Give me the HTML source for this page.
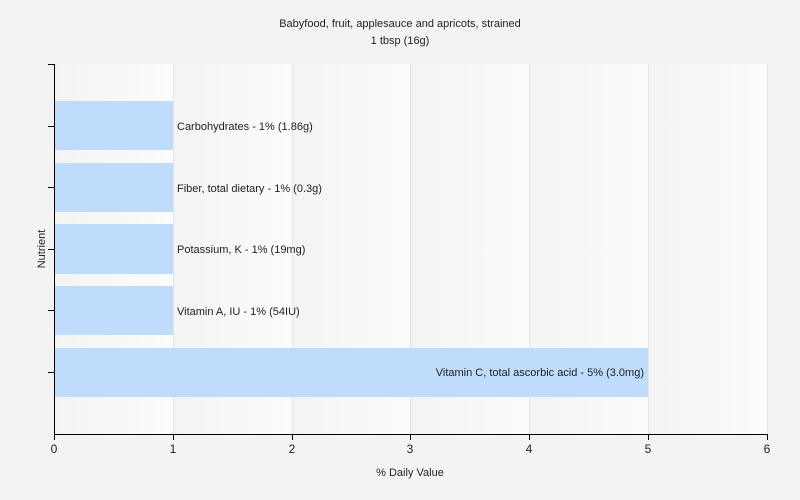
<!DOCTYPE html>
<html><head><style>body{margin:0;background:#f3f3f3}svg{display:block;font-family:"Liberation Sans",sans-serif}</style></head><body>
<svg width="800" height="500" xmlns="http://www.w3.org/2000/svg">
<defs><linearGradient id="g" x1="0" x2="1" y1="0" y2="0"><stop offset="0" stop-color="#f3f3f3"/><stop offset="1" stop-color="#fcfcfc"/></linearGradient></defs>
<rect width="800" height="500" fill="#f3f3f3"/>
<rect x="54" y="64" width="119" height="370" fill="url(#g)"/>
<rect x="173" y="64" width="119" height="370" fill="url(#g)"/>
<rect x="292" y="64" width="118" height="370" fill="url(#g)"/>
<rect x="410" y="64" width="119" height="370" fill="url(#g)"/>
<rect x="529" y="64" width="119" height="370" fill="url(#g)"/>
<rect x="648" y="64" width="119" height="370" fill="url(#g)"/>
<g stroke="#e4e4e4" stroke-width="1">
<line x1="173.5" y1="64" x2="173.5" y2="434"/><line x1="292.5" y1="64" x2="292.5" y2="434"/><line x1="410.5" y1="64" x2="410.5" y2="434"/><line x1="529.5" y1="64" x2="529.5" y2="434"/><line x1="648.5" y1="64" x2="648.5" y2="434"/><line x1="767.5" y1="64" x2="767.5" y2="434"/>
</g>
<g fill="#bfdcfd">
<rect x="54" y="101" width="119" height="49"/>
<rect x="54" y="163" width="119" height="49"/>
<rect x="54" y="224" width="119" height="50"/>
<rect x="54" y="286" width="119" height="49"/>
<rect x="54" y="348" width="594" height="49"/>
</g>
<g font-size="11" fill="#222">
<text x="177" y="130">Carbohydrates - 1% (1.86g)</text>
<text x="177" y="192">Fiber, total dietary - 1% (0.3g)</text>
<text x="177" y="253">Potassium, K - 1% (19mg)</text>
<text x="177" y="315">Vitamin A, IU - 1% (54IU)</text>
<text x="644" y="376" text-anchor="end">Vitamin C, total ascorbic acid - 5% (3.0mg)</text>
</g>
<g stroke="#000" stroke-width="1">
<line x1="54.5" y1="64" x2="54.5" y2="434"/>
<line x1="54" y1="434.5" x2="767" y2="434.5"/>
<line x1="48" y1="64.5" x2="54" y2="64.5"/>
<line x1="48" y1="126.5" x2="54" y2="126.5"/><line x1="48" y1="187.5" x2="54" y2="187.5"/><line x1="48" y1="249.5" x2="54" y2="249.5"/><line x1="48" y1="310.5" x2="54" y2="310.5"/><line x1="48" y1="372.5" x2="54" y2="372.5"/>
<line x1="54.5" y1="434" x2="54.5" y2="440"/><line x1="173.5" y1="434" x2="173.5" y2="440"/><line x1="292.5" y1="434" x2="292.5" y2="440"/><line x1="410.5" y1="434" x2="410.5" y2="440"/><line x1="529.5" y1="434" x2="529.5" y2="440"/><line x1="648.5" y1="434" x2="648.5" y2="440"/><line x1="767.5" y1="434" x2="767.5" y2="440"/>
</g>
<g font-size="12" fill="#222" text-anchor="middle">
<text x="54" y="453">0</text><text x="173" y="453">1</text><text x="292" y="453">2</text><text x="410" y="453">3</text><text x="529" y="453">4</text><text x="648" y="453">5</text><text x="767" y="453">6</text>
</g>
<g font-size="11" fill="#222" text-anchor="middle">
<text x="400" y="27">Babyfood, fruit, applesauce and apricots, strained</text>
<text x="400" y="44">1 tbsp (16g)</text>
<text x="410" y="476">% Daily Value</text>
<text transform="translate(45,249) rotate(-90)">Nutrient</text>
</g>
</svg>
</body></html>
